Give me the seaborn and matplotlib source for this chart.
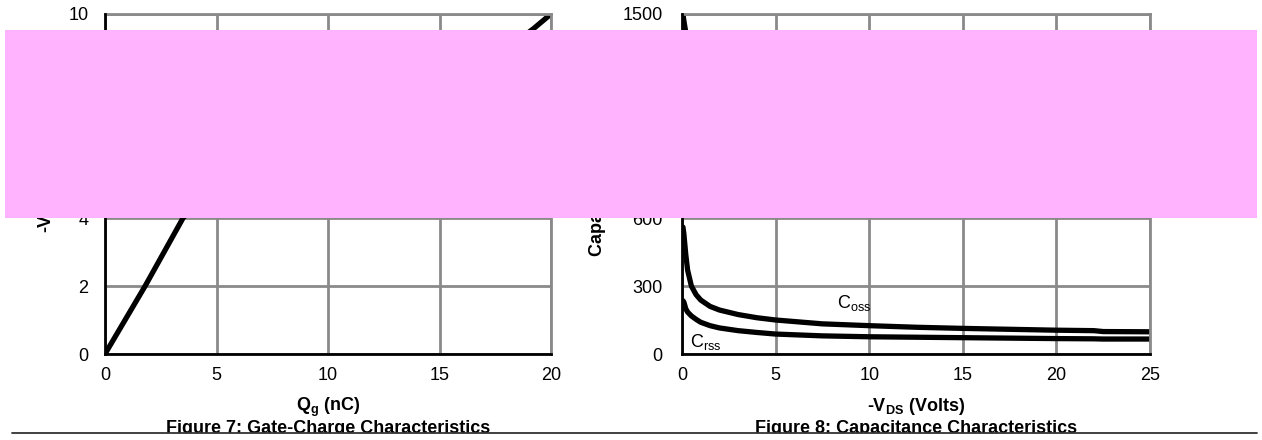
import matplotlib
matplotlib.use("Agg")
import matplotlib.pyplot as plt
import seaborn as sns
import pandas as pd
from matplotlib.patches import Rectangle
from matplotlib.lines import Line2D

# ---- data ----
qg_nc = [0, 1.8, 3.5, 4.2, 6.0, 9.0, 10.0, 15.0, 19.2, 20.0]
vgs_v = [0, 2.0, 4.0, 4.5, 4.7, 4.9, 5.2, 7.5, 9.56, 10.0]

vds_v = [0.05, 0.1, 0.2, 0.3, 0.5, 0.75, 1, 1.5, 2, 3, 4, 5, 7.5, 10, 12.5, 15, 17.5, 20, 22, 22.5, 25]
ciss_pf = [1500, 1470, 1420, 1390, 1350, 1320, 1300, 1280, 1265, 1245, 1235, 1225, 1205, 1185, 1170, 1160, 1150, 1140, 1135, 1132, 1125]
coss_pf = [560, 530, 440, 370, 300, 262, 238, 210, 194, 174, 160, 150, 133, 125, 118, 113, 109, 105, 103, 99, 98]
crss_pf = [235, 229, 200, 185, 168, 153, 140, 125, 115, 103, 95, 88, 80, 76, 74, 72, 70, 68, 67, 66, 66]

x_ticks_left = [0, 5, 10, 15, 20]
y_ticks_left = [0, 2, 4, 6, 8, 10]
x_ticks_right = [0, 5, 10, 15, 20, 25]
y_ticks_right = [0, 300, 600, 900, 1200, 1500]

sns.set_theme(style="white")
plt.rcParams['font.family'] = ['Liberation Sans', 'DejaVu Sans']
plt.rcParams['text.color'] = 'black'
plt.rcParams['axes.labelcolor'] = 'black'
plt.rcParams['xtick.color'] = 'black'
plt.rcParams['ytick.color'] = 'black'

W, H = 1262, 440
fig = plt.figure(figsize=(W / 100, H / 100), dpi=100)

def px_axes(x0, y0, x1, y1):
    return fig.add_axes([x0 / W, 1 - y1 / H, (x1 - x0) / W, (y1 - y0) / H])

ax1 = px_axes(105, 14, 551, 354)
ax2 = px_axes(682, 14, 1150, 354)

grid_col = "#8a8a8a"
FS = 13

def style(ax, xt, yt, xlim, ylim, ypad):
    ax.set_xlim(*xlim)
    ax.set_ylim(*ylim)
    ax.set_xticks(xt)
    ax.set_yticks(yt)
    ax.grid(True, color=grid_col, linewidth=2.0)
    ax.set_axisbelow(True)
    for s in ["top", "right"]:
        ax.spines[s].set_color(grid_col)
        ax.spines[s].set_linewidth(2.0)
    for s in ["left", "bottom"]:
        ax.spines[s].set_color("black")
        ax.spines[s].set_linewidth(2.0)
        ax.spines[s].set_zorder(3)
    ax.tick_params(axis="x", length=0, pad=9, labelsize=FS, colors="black")
    ax.tick_params(axis="y", length=0, pad=ypad, labelsize=FS, colors="black")

# Left: gate charge
df1 = pd.DataFrame({"Qg": qg_nc, "Vgs": vgs_v})
sns.lineplot(data=df1, x="Qg", y="Vgs", ax=ax1, color="black", linewidth=3.8,
             sort=False, estimator=None, solid_capstyle="butt")
style(ax1, x_ticks_left, y_ticks_left, (0, 20), (0, 10), 12)
ax1.set_xlabel("Q$_\\mathregular{g}$ (nC)", fontsize=FS, fontweight="bold", labelpad=9)
ax1.set_ylabel("-V$_\\mathregular{GS}$ (Volts)", fontsize=FS, fontweight="bold", labelpad=8)
ax1.text(0.7, 9.25, "V$_\\mathregular{DS}$=-30V", fontsize=FS, va="center")
ax1.text(1.6, 8.6, "I$_\\mathregular{D}$=-4A", fontsize=FS, va="center")

# Right: capacitance
df2 = pd.DataFrame({"Vds": vds_v * 3,
                    "C": ciss_pf + coss_pf + crss_pf,
                    "kind": ["Ciss"] * len(vds_v) + ["Coss"] * len(vds_v) + ["Crss"] * len(vds_v)})
sns.lineplot(data=df2, x="Vds", y="C", hue="kind", ax=ax2,
             palette={"Ciss": "black", "Coss": "black", "Crss": "black"},
             linewidth=3.8, legend=False, estimator=None)
style(ax2, x_ticks_right, y_ticks_right, (0, 25), (0, 1500), 14)
ax2.set_xlabel("-V$_\\mathregular{DS}$ (Volts)", fontsize=FS, fontweight="bold", labelpad=9)
ax2.set_ylabel("Capacitance (pF)", fontsize=FS, fontweight="bold", labelpad=12)
ax2.text(8.3, 225, "C$_\\mathregular{oss}$", fontsize=FS, va="center")
ax2.text(0.45, 55, "C$_\\mathregular{rss}$", fontsize=FS, va="center")
ax2.text(10.5, 1290, "C$_\\mathregular{iss}$", fontsize=FS, va="center")

# Figure captions
fig.text(328 / W, 1 - 428 / H, "Figure 7: Gate-Charge Characteristics", ha="center", va="center",
         fontsize=FS, fontweight="bold")
fig.text(916 / W, 1 - 428 / H, "Figure 8: Capacitance Characteristics", ha="center", va="center",
         fontsize=FS, fontweight="bold")

# clipped bottom band and rule
fig.add_artist(Rectangle((0, 0), 1, (H - 433) / H, transform=fig.transFigure,
                         facecolor="white", edgecolor="none", zorder=20))
fig.add_artist(Line2D([12 / W, 1257 / W], [1 - 432.5 / H] * 2, transform=fig.transFigure,
                      color="#333333", linewidth=1.3, zorder=21))

# pink redaction block
fig.add_artist(Rectangle((5 / W, 1 - 218 / H), (1257 - 5) / W, (218 - 30) / H,
                         transform=fig.transFigure, facecolor="#ffb3ff", edgecolor="none", zorder=30))

fig.savefig("out.png", dpi=100)
